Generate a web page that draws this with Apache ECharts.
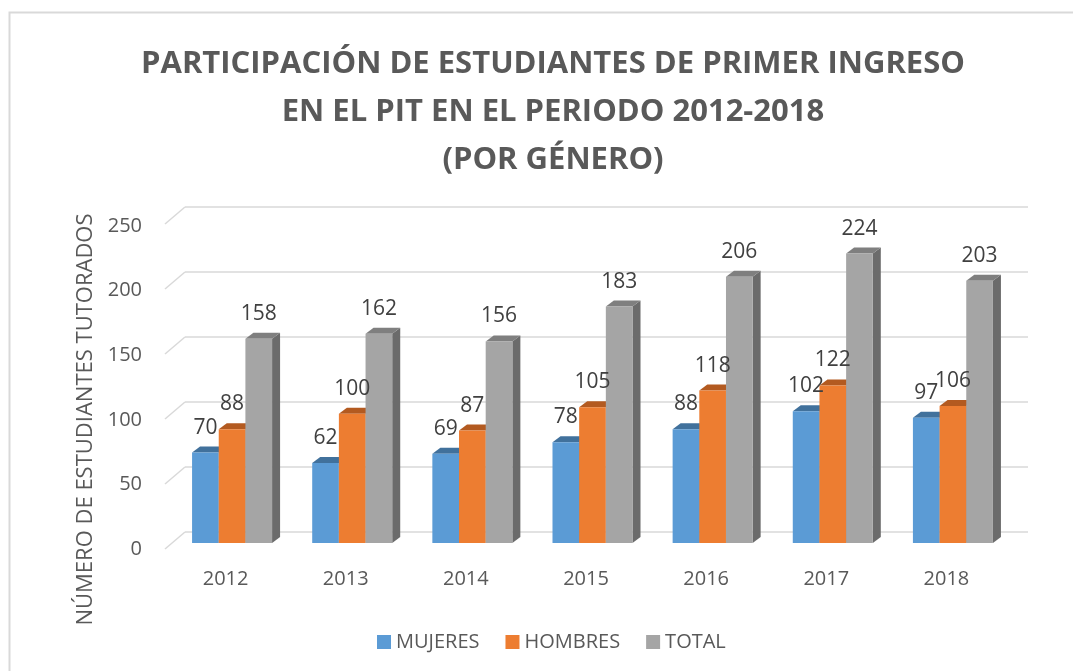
<!DOCTYPE html>
<html>
<head>
<meta charset="utf-8">
<script src="https://cdn.jsdelivr.net/npm/echarts@6/dist/echarts.min.js"></script>
<style>
    html, body { margin: 0; padding: 0; background: #fff; }
    #chart { width: 1073px; height: 671px; }
</style>
</head>
<body>
<div id="chart"></div>
<script>
    // datos
    const years = ['2012', '2013', '2014', '2015', '2016', '2017', '2018'];
    const mujeres = [70, 62, 69, 78, 88, 102, 97];
    const hombres = [88, 100, 87, 105, 118, 122, 106];
    const total = [158, 162, 156, 183, 206, 224, 203];
    const yTicks = [0, 50, 100, 150, 200, 250];

    const FONT = '"Open Sans", sans-serif';
    const DX = 8, DY = 6; // profundidad de las barras

    function bar3d(idx, front, top, side) {
        return function (params, api) {
            const cat = api.value(0), val = api.value(1);
            const base = api.coord([cat, 0]);
            const tip = api.coord([cat, val]);
            const band = api.size([1, 0])[0];
            const w = band * 0.222;
            const x0 = base[0] - 1.5 * w + idx * w;
            const x1 = x0 + w;
            const yb = base[1], yt = tip[1];
            return {
                type: 'group',
                children: [
                    { type: 'polygon', shape: { points: [[x1, yt], [x1 + DX, yt - DY], [x1 + DX, yb - DY], [x1, yb]] }, style: { fill: side } },
                    { type: 'polygon', shape: { points: [[x0, yt], [x0 + DX, yt - DY], [x1 + DX, yt - DY], [x1, yt]] }, style: { fill: top } },
                    { type: 'rect', shape: { x: x0, y: yt, width: w, height: yb - yt }, style: { fill: front } },
                    {
                        type: 'text', z2: 100, x: (x0 + x1) / 2, y: yt - 25,
                        style: { text: String(val), fill: '#404040', font: '21px ' + FONT, align: 'center', verticalAlign: 'middle' }
                    }
                ]
            };
        };
    }

    function mkSeries(name, values, idx, front, top, side) {
        return {
            name: name,
            type: 'custom',
            xAxisIndex: 0,
            yAxisIndex: 0,
            itemStyle: { color: front },
            encode: { x: 0, y: 1 },
            data: values.map((v, i) => [i, v]),
            renderItem: bar3d(idx, front, top, side)
        };
    }

    const chart = echarts.init(document.getElementById('chart'));
    chart.setOption({
        backgroundColor: '#fff',
        animation: false,
        title: {
            text: 'PARTICIPACIÓN DE ESTUDIANTES DE PRIMER INGRESO\nEN EL PIT EN EL PERIODO 2012-2018\n(POR GÉNERO)',
            left: 548,
            top: 35,
            textAlign: 'center',
            textStyle: { fontFamily: FONT, fontWeight: 'bold', fontSize: 31, lineHeight: 48, color: '#595959', align: 'center' }
        },
        legend: {
            left: 372,
            top: 627,
            itemWidth: 14,
            itemHeight: 14,
            itemGap: 26,
            icon: 'rect',
            textStyle: { fontFamily: FONT, fontSize: 20, lineHeight: 20, color: '#595959' },
            data: ['MUJERES', 'HOMBRES', 'TOTAL']
        },
        grid: [
            { left: 172, right: 60, top: 220, bottom: 128 },
            { left: 185, right: 45, top: 207, bottom: 139 }
        ],
        xAxis: [
            {
                type: 'category', gridIndex: 0, data: years,
                axisLine: { show: false }, axisTick: { show: false },
                axisLabel: { fontFamily: FONT, fontSize: 20, lineHeight: 20, color: '#595959', margin: 26, padding: [0, 13, 0, 0] }
            },
            { type: 'category', gridIndex: 1, data: years, show: false }
        ],
        yAxis: [
            {
                type: 'value', gridIndex: 0, min: 0, max: 250, interval: 50,
                axisLine: { show: false }, axisTick: { show: false }, splitLine: { show: false },
                axisLabel: { fontFamily: FONT, fontSize: 20, color: '#595959', margin: 30, verticalAlign: 'top', lineHeight: 12 },
                name: 'NÚMERO DE ESTUDIANTES TUTORADOS',
                nameLocation: 'middle',
                nameGap: 74,
                nameTextStyle: { fontFamily: FONT, fontSize: 22, color: '#595959', padding: [0, 76, 0, 0] }
            },
            {
                type: 'value', gridIndex: 1, min: 0, max: 250, interval: 50,
                axisLine: { show: false }, axisTick: { show: false }, axisLabel: { show: false },
                splitLine: { show: true, lineStyle: { color: '#d9d9d9', width: 1.5 } }
            }
        ],
        graphic: [
            { type: 'rect', left: 7, top: 10, shape: { width: 1100, height: 700 }, style: { fill: 'none', stroke: '#d9d9d9', lineWidth: 2 }, silent: true }
        ],
        series: [
            {
                type: 'custom',
                xAxisIndex: 1,
                yAxisIndex: 1,
                silent: true,
                z: 1,
                encode: { x: 0, y: 1 },
                data: yTicks.map(v => [0, v]),
                renderItem: function (params, api) {
                    const p = api.coord([0, api.value(1)]);
                    const x = params.coordSys.x;
                    return {
                        type: 'line',
                        shape: { x1: x, y1: p[1], x2: x - 20, y2: p[1] + 17 },
                        style: { stroke: '#d9d9d9', lineWidth: 1.5 }
                    };
                }
            },
            mkSeries('MUJERES', mujeres, 0, '#5b9bd5', '#41719c', '#3e6e98'),
            mkSeries('HOMBRES', hombres, 1, '#ed7d31', '#b35a20', '#ad5a21'),
            mkSeries('TOTAL', total, 2, '#a5a5a5', '#7f7f7f', '#6b6b6b')
        ]
    });
</script>
</body>
</html>
